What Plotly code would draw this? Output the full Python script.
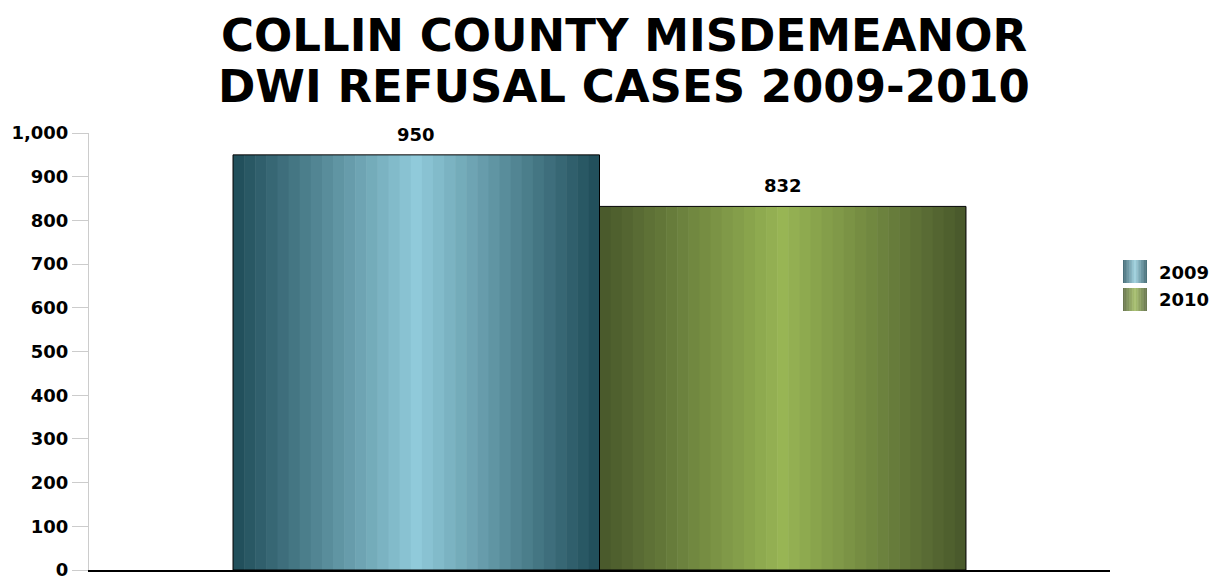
import base64
import plotly.graph_objects as go

# ---- data ----
title_lines = ["COLLIN COUNTY MISDEMEANOR", "DWI REFUSAL CASES 2009-2010"]
series_names = ["2009", "2010"]
series_values = [950, 832]
y_ticks = [0, 100, 200, 300, 400, 500, 600, 700, 800, 900, 1000]

# ---- style ----
edge_colors = [(34, 80, 92), (74, 90, 44)]
center_colors = [(144, 202, 218), (152, 181, 84)]
FONT = "DejaVu Sans"
N_STRIPES = 33
PLOT_LEFT, PLOT_RIGHT = 89, 1110
PLOT_TOP, PLOT_BOTTOM = 133, 570


def paper_y(px):
    return (PLOT_BOTTOM - px) / (PLOT_BOTTOM - PLOT_TOP)


def paper_x(px):
    return (px - PLOT_LEFT) / (PLOT_RIGHT - PLOT_LEFT)


def stripe_svg(edge, center, n):
    rects = []
    mid = (n - 1) / 2.0
    for i in range(n):
        t = 1 - abs(i - mid) / mid
        c = tuple(int(round(e + (m - e) * t)) for e, m in zip(edge, center))
        rects.append(
            f'<rect x="{i}" y="0" width="1.05" height="1" fill="rgb{c}"/>'
        )
    svg = (
        f'<svg xmlns="http://www.w3.org/2000/svg" viewBox="0 0 {n} 1" '
        f'width="{n*10}" height="100" preserveAspectRatio="none">'
        + "".join(rects)
        + "</svg>"
    )
    return "data:image/svg+xml;base64," + base64.b64encode(svg.encode()).decode()


sources = [stripe_svg(e, c, N_STRIPES) for e, c in zip(edge_colors, center_colors)]

fig = go.Figure()
images = []
annotations = []
for i, (name, val) in enumerate(zip(series_names, series_values)):
    fig.add_trace(
        go.Bar(
            x=[name],
            y=[val],
            name=name,
            width=1,
            marker=dict(color="rgba(0,0,0,0)", line=dict(color="#000000", width=1)),
            hoverinfo="y+name",
        )
    )
    images.append(
        dict(
            source=sources[i], xref="x", yref="y",
            x=i - 0.5, y=val, sizex=1, sizey=val,
            xanchor="left", yanchor="top", sizing="stretch", layer="below",
        )
    )
    annotations.append(
        dict(
            x=i, y=val, xref="x", yref="y", text=f"<b>{val:,}</b>",
            showarrow=False, yanchor="bottom", yshift=8,
            font=dict(family=FONT, size=18, color="#000"),
        )
    )
    # custom legend with gradient swatches
    images.append(
        dict(
            source=sources[i], xref="paper", yref="paper",
            x=paper_x(1123), y=paper_y(260 + 28 * i),
            sizex=24 / (PLOT_RIGHT - PLOT_LEFT), sizey=23 / (PLOT_BOTTOM - PLOT_TOP),
            xanchor="left", yanchor="top", sizing="stretch", layer="above",
        )
    )
    annotations.append(
        dict(
            x=paper_x(1157), y=paper_y(272 + 27 * i), xref="paper", yref="paper",
            text=f"<b>{name}</b>", showarrow=False, xanchor="left", yanchor="middle",
            font=dict(family=FONT, size=18, color="#000"),
        )
    )

# title, one annotation per line
for j, line in enumerate(title_lines):
    annotations.append(
        dict(
            x=paper_x(624), xref="paper", y=paper_y(35 + 51 * j), yref="paper",
            text=f"<b>{line}</b>", showarrow=False,
            xanchor="center", yanchor="middle",
            font=dict(family=FONT, size=45, color="#000"),
        )
    )

fig.update_layout(
    width=1217,
    height=578,
    margin=dict(l=PLOT_LEFT, r=1217 - PLOT_RIGHT, t=PLOT_TOP, b=578 - PLOT_BOTTOM,
                autoexpand=False),
    paper_bgcolor="white",
    plot_bgcolor="rgba(0,0,0,0)",
    barmode="overlay",
    showlegend=False,
    xaxis=dict(
        type="category",
        categoryorder="array",
        categoryarray=series_names,
        range=[-0.893, 1.893],
        showticklabels=False,
        ticks="",
        showgrid=False,
        zeroline=False,
        showline=True,
        linecolor="#000000",
        linewidth=2,
        automargin=False,
        fixedrange=True,
    ),
    yaxis=dict(
        range=[0, 1000],
        tickvals=y_ticks,
        ticktext=[f"<b>{v:,}</b>" for v in y_ticks],
        ticks="outside",
        ticklen=16,
        tickcolor="#cccccc",
        showgrid=False,
        zeroline=False,
        showline=True,
        linecolor="#cccccc",
        linewidth=1,
        automargin=False,
        ticklabeloverflow="allow",
        tickfont=dict(family=FONT, size=18, color="#000"),
        fixedrange=True,
    ),
    images=images,
    annotations=annotations,
)

fig.write_html(
    "out.html",
    config={"displayModeBar": False},
    post_script="document.body.style.margin='0';document.body.style.overflow='hidden';",
)
